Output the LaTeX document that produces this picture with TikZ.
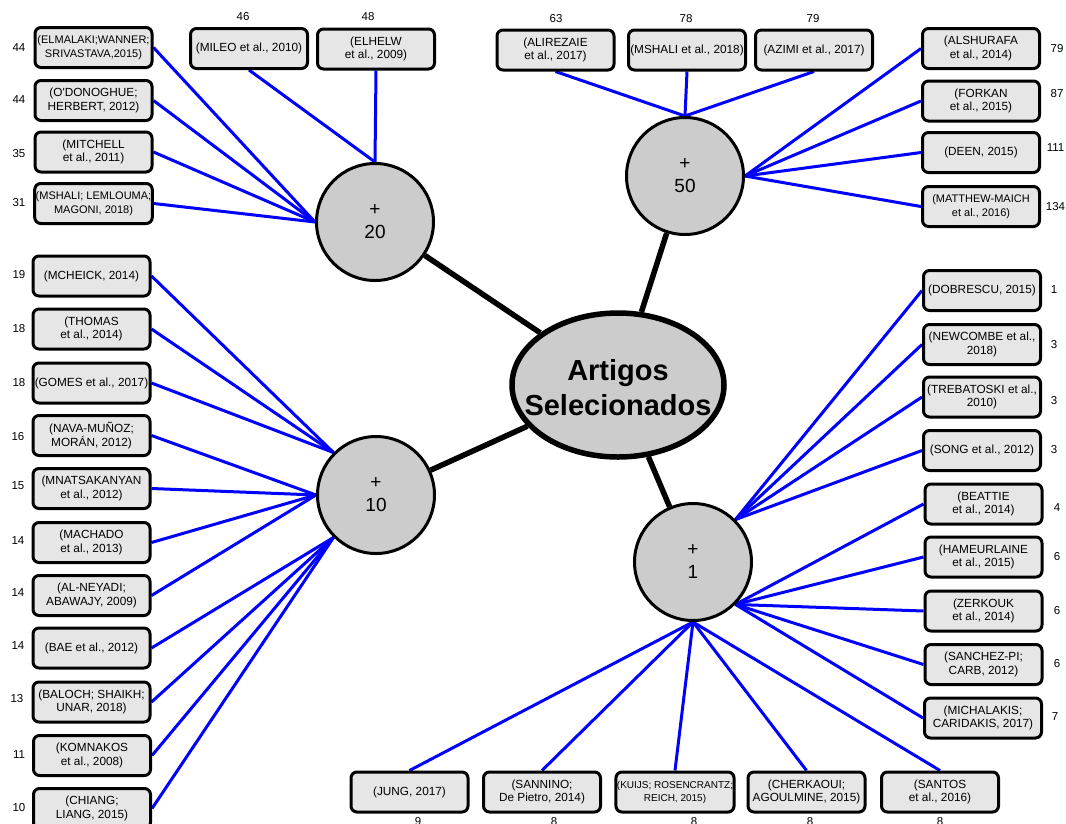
\documentclass[tikz,border=0pt]{standalone}
\usepackage{fontspec}
\setmainfont{Liberation Sans}
\usetikzlibrary{shapes.geometric,backgrounds}
\definecolor{boxgray}{RGB}{230,230,230}
\definecolor{hubgray}{RGB}{204,204,204}
\definecolor{linkblue}{RGB}{0,0,255}
\begin{document}
\begin{tikzpicture}[x=1pt,y=-1pt,
  citebox/.style={draw=black, line width=3pt, fill=boxgray, rounded corners=6pt,
    minimum width=117pt, minimum height=40pt, inner sep=1pt, align=center,
    font=\fontsize{11.8}{13.5}\selectfont},
  smallcite/.style={font=\fontsize{11}{13.5}\selectfont},
  hub/.style={circle, draw=black, line width=3pt, fill=hubgray, minimum size=117pt,
    inner sep=0pt, align=center, font=\fontsize{19}{23}\selectfont},
  cites/.style={font=\fontsize{11.5}{13}\selectfont, inner sep=0pt},
  bluelink/.style={draw=linkblue, line width=3pt},
  hubspoke/.style={draw=black, line width=5.5pt}
]
\path[use as bounding box, clip] (0,0) rectangle (1066,823);

% central node and the four citation groups
\node[ellipse, draw=black, line width=5.5pt, fill=hubgray, minimum width=212pt,
  minimum height=144pt, inner sep=0pt] (main) at (618,385) {};
\node[align=center, inner sep=0pt, font=\bfseries\fontsize{29}{35}\selectfont]
  (main-text) at (618,388) {Artigos\\Selecionados};
\node[hub] (c20) at (375,222) {+\\20};
\node[hub] (c50) at (685,176) {+\\50};
\node[hub] (c10) at (376,495) {+\\10};
\node[hub] (c1)  at (693,562) {+\\1};

% group +20
\node[citebox, smallcite] (elmalaki) at (93.5,47.5) {(ELMALAKI;WANNER;\\SRIVASTAVA,2015)};
\node[citebox] (odonoghue) at (93.5,100.5) {(O\textquotesingle DONOGHUE;\\HERBERT, 2012)};
\node[citebox] (mitchell) at (93.5,152) {(MITCHELL\\et al., 2011)};
\node[citebox, smallcite] (mshaliA) at (93.5,203.5) {(MSHALI; LEMLOUMA;\\MAGONI, 2018)};
\node[citebox] (mileo) at (249,48.5) {(MILEO et al., 2010)};
\node[citebox] (elhelw) at (376,49) {(ELHELW\\et al., 2009)};
\node[cites] (n-elmalaki) at (19,48) {44};
\node[cites] (n-odonoghue) at (19,100) {44};
\node[cites] (n-mitchell) at (19,154) {35};
\node[cites] (n-mshaliA) at (19,203) {31};
\node[cites] (n-mileo) at (243,17) {46};
\node[cites] (n-elhelw) at (368,17) {48};

% group +50
\node[citebox] (alirezaie) at (555.5,50) {(ALIREZAIE\\et al., 2017)};
\node[citebox] (mshaliB) at (687,50) {(MSHALI et al., 2018)};
\node[citebox] (azimi) at (814,50) {(AZIMI et al., 2017)};
\node[citebox] (alshurafa) at (981,48.5) {(ALSHURAFA\\et al., 2014)};
\node[citebox] (forkan) at (981,101) {(FORKAN\\et al., 2015)};
\node[citebox] (deen) at (981,152.5) {(DEEN, 2015)};
\node[citebox, smallcite] (matthew) at (981,206.5) {(MATTHEW-MAICH\\et al., 2016)};
\node[cites] (n-alirezaie) at (556,19) {63};
\node[cites] (n-mshaliB) at (686,19) {78};
\node[cites] (n-azimi) at (813,19) {79};
\node[cites] (n-alshurafa) at (1057,49) {79};
\node[cites] (n-forkan) at (1057,94) {87};
\node[cites] (n-deen) at (1055.5,148) {111};
\node[cites] (n-matthew) at (1055.5,207) {134};

% group +10
\node[citebox] (mcheick) at (91.5,276) {(MCHEICK, 2014)};
\node[citebox] (thomas) at (91.5,329) {(THOMAS\\et al., 2014)};
\node[citebox] (gomes) at (91.5,383) {(GOMES et al., 2017)};
\node[citebox] (nava) at (91.5,435.5) {(NAVA-MUÑOZ;\\MORÁN, 2012)};
\node[citebox] (mnatsakanyan) at (91.5,488.5) {(MNATSAKANYAN\\et al., 2012)};
\node[citebox] (machado) at (91.5,542.5) {(MACHADO\\et al., 2013)};
\node[citebox] (alneyadi) at (91.5,595.5) {(AL-NEYADI;\\ABAWAJY, 2009)};
\node[citebox] (bae) at (91.5,648) {(BAE et al., 2012)};
\node[citebox] (baloch) at (91.5,702) {(BALOCH; SHAIKH;\\UNAR, 2018)};
\node[citebox] (komnakos) at (92,755.5) {(KOMNAKOS\\et al., 2008)};
\node[citebox] (chiang) at (92,808.5) {(CHIANG;\\LIANG, 2015)};
\node[cites] (n-mcheick) at (19,275) {19};
\node[cites] (n-thomas) at (19,329) {18};
\node[cites] (n-gomes) at (19,383) {18};
\node[cites] (n-nava) at (18,437) {16};
\node[cites] (n-mnatsakanyan) at (18,486) {15};
\node[cites] (n-machado) at (18,541) {14};
\node[cites] (n-alneyadi) at (18,593) {14};
\node[cites] (n-bae) at (18,646) {14};
\node[cites] (n-baloch) at (17,699) {13};
\node[cites] (n-komnakos) at (19,755) {11};
\node[cites] (n-chiang) at (19,808) {10};

% group +1
\node[citebox] (dobrescu) at (982,290.5) {(DOBRESCU, 2015)};
\node[citebox] (newcombe) at (982,344.5) {(NEWCOMBE et al.,\\2018)};
\node[citebox] (trebatoski) at (982,397) {(TREBATOSKI et al.,\\2010)};
\node[citebox] (song) at (982,450.5) {(SONG et al., 2012)};
\node[citebox] (beattie) at (983.5,504) {(BEATTIE\\et al., 2014)};
\node[citebox] (hameurlaine) at (983.5,557) {(HAMEURLAINE\\et al., 2015)};
\node[citebox] (zerkouk) at (983.5,611) {(ZERKOUK\\et al., 2014)};
\node[citebox] (sanchez) at (983.5,664.5) {(SANCHEZ-PI;\\CARB, 2012)};
\node[citebox] (michalakis) at (983,718) {(MICHALAKIS;\\CARIDAKIS, 2017)};
\node[citebox] (jung) at (409.5,792) {(JUNG, 2017)};
\node[citebox] (sannino) at (542,792) {(SANNINO;\\De Pietro, 2014)};
\node[citebox, font=\fontsize{10}{13}\selectfont] (kuijs) at (675,792) {(KUIJS; ROSENCRANTZ;\\REICH, 2015)};
\node[citebox] (cherkaoui) at (806.5,792) {(CHERKAOUI;\\AGOULMINE, 2015)};
\node[citebox] (santos) at (940,792) {(SANTOS\\et al., 2016)};
\node[cites] (n-dobrescu) at (1054,290) {1};
\node[cites] (n-newcombe) at (1054,345) {3};
\node[cites] (n-trebatoski) at (1054,401) {3};
\node[cites] (n-song) at (1054,450) {3};
\node[cites] (n-beattie) at (1057,508) {4};
\node[cites] (n-hameurlaine) at (1057,557) {6};
\node[cites] (n-zerkouk) at (1057,611) {6};
\node[cites] (n-sanchez) at (1057,664) {6};
\node[cites] (n-michalakis) at (1055,717) {7};
\node[cites] (n-jung) at (418,821.5) {9};
\node[cites] (n-sannino) at (554,821.5) {8};
\node[cites] (n-kuijs) at (694,821.5) {8};
\node[cites] (n-cherkaoui) at (810,821.5) {8};
\node[cites] (n-santos) at (940,821.5) {8};

\begin{pgfonlayer}{background}
  % spokes from the centre to each group
  \foreach \g in {c20,c50,c10,c1} \draw[hubspoke] (main) -- (\g);
  % citation links
  \foreach \b in {elmalaki,odonoghue,mitchell,mshaliA} \draw[bluelink] (\b.east) -- (c20.west);
  \foreach \b in {mileo,elhelw} \draw[bluelink] (\b.south) -- (c20.north);
  \foreach \b in {alirezaie,mshaliB,azimi} \draw[bluelink] (\b.south) -- (c50.north);
  \foreach \b in {alshurafa,forkan,deen,matthew} \draw[bluelink] (\b.west) -- (c50.east);
  \foreach \b in {mcheick,thomas,gomes} \draw[bluelink] (\b.east) -- (c10.north west);
  \foreach \b in {nava,mnatsakanyan,machado,alneyadi} \draw[bluelink] (\b.east) -- (c10.west);
  \foreach \b in {bae,baloch,komnakos,chiang} \draw[bluelink] (\b.east) -- (c10.south west);
  \foreach \b in {dobrescu,newcombe,trebatoski,song} \draw[bluelink] (\b.west) -- (c1.north east);
  \foreach \b in {beattie,hameurlaine,zerkouk,sanchez,michalakis} \draw[bluelink] (\b.west) -- (c1.south east);
  \foreach \b in {jung,sannino,kuijs,cherkaoui,santos} \draw[bluelink] (\b.north) -- (c1.south);
\end{pgfonlayer}
\end{tikzpicture}
\end{document}
